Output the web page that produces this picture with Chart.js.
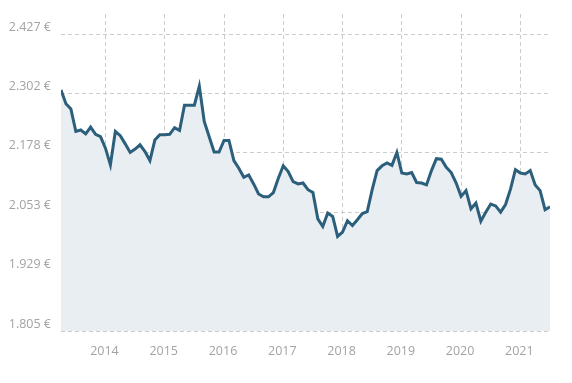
<!DOCTYPE html>
<html>
<head>
<meta charset="utf-8">
<script src="https://cdn.jsdelivr.net/npm/chart.js@4/dist/chart.umd.min.js"></script>
<style>
html,body{margin:0;padding:0;background:#fff;}
#c{display:block;}
</style>
</head>
<body>
<canvas id="c" width="572" height="383"></canvas>
<script>
// Monthly series, April 2013 .. July 2021
const startYear = 2013;
const startMonth = 4;
const values = [
  2310, 2281, 2270, 2223, 2226, 2218, 2232, 2217, 2212,
  2188, 2153, 2223, 2214, 2197, 2179, 2186, 2195, 2181, 2162, 2205, 2216,
  2216, 2217, 2231, 2225, 2278, 2278, 2278, 2318, 2244, 2212, 2180, 2180,
  2204, 2204, 2162, 2146, 2127, 2132, 2113, 2092, 2086, 2086, 2095, 2125,
  2151, 2139, 2118, 2113, 2115, 2101, 2095, 2040, 2024, 2052, 2045, 2003,
  2012, 2036, 2026, 2038, 2051, 2055, 2101, 2141, 2151, 2157, 2152, 2179,
  2136, 2134, 2137, 2116, 2115, 2111, 2141, 2166, 2165, 2148, 2137, 2115,
  2087, 2099, 2061, 2073, 2035, 2054, 2071, 2067, 2054, 2070, 2102, 2143,
  2136, 2134, 2141, 2111, 2099, 2059, 2065
];
const yearTicks = [2014, 2015, 2016, 2017, 2018, 2019, 2020, 2021];
const valueTicks = [1805, 1929, 2053, 2178, 2302, 2427];

const points = values.map((v, i) => ({ x: startYear + (startMonth - 1 + i) / 12, y: v }));
const xMin = points[0].x;
const xMax = points[points.length - 1].x;

function euro(v) {
  const s = Math.round(v).toString();
  return s.replace(/\B(?=(\d{3})+(?!\d))/g, '.') + ' €';
}

const gridColor = '#cccccc';
const textColor = '#a3a3a3';
const font = { family: "'Open Sans', sans-serif", size: 12.5 };

new Chart(document.getElementById('c'), {
  type: 'line',
  data: {
    datasets: [{
      data: points,
      borderColor: '#2b5f7c',
      backgroundColor: '#e9eef3',
      borderWidth: 3,
      pointRadius: 0,
      tension: 0,
      fill: 'start',
      borderJoinStyle: 'miter'
    }]
  },
  options: {
    responsive: false,
    animation: false,
    layout: { padding: { top: 14, right: 22, left: 0, bottom: 0 } },
    plugins: { legend: { display: false }, tooltip: { enabled: false } },
    scales: {
      x: {
        type: 'linear',
        min: xMin,
        max: xMax,
        afterBuildTicks: s => { s.ticks = yearTicks.map(v => ({ value: v })); },
        afterFit: s => { s.height = 52; s.paddingLeft = 0; s.paddingRight = 0; },
        grid: { color: gridColor, lineWidth: 1, drawTicks: false },
        border: { display: false, dash: [4, 3] },
        ticks: {
          color: textColor, font: font, padding: 13, labelOffset: -1,
          maxRotation: 0, autoSkip: false,
          callback: v => String(v)
        }
      },
      y: {
        min: 1805,
        max: 2469,
        afterBuildTicks: s => { s.ticks = valueTicks.map(v => ({ value: v })); },
        afterFit: s => { s.width = 61; s.paddingTop = 0; s.paddingBottom = 0; },
        grid: { color: gridColor, lineWidth: 1, drawTicks: false },
        border: { display: false, dash: [4, 3] },
        ticks: {
          color: textColor, font: font, padding: 10, labelOffset: -7,
          autoSkip: false,
          callback: v => euro(v)
        }
      }
    }
  }
});
</script>
</body>
</html>
